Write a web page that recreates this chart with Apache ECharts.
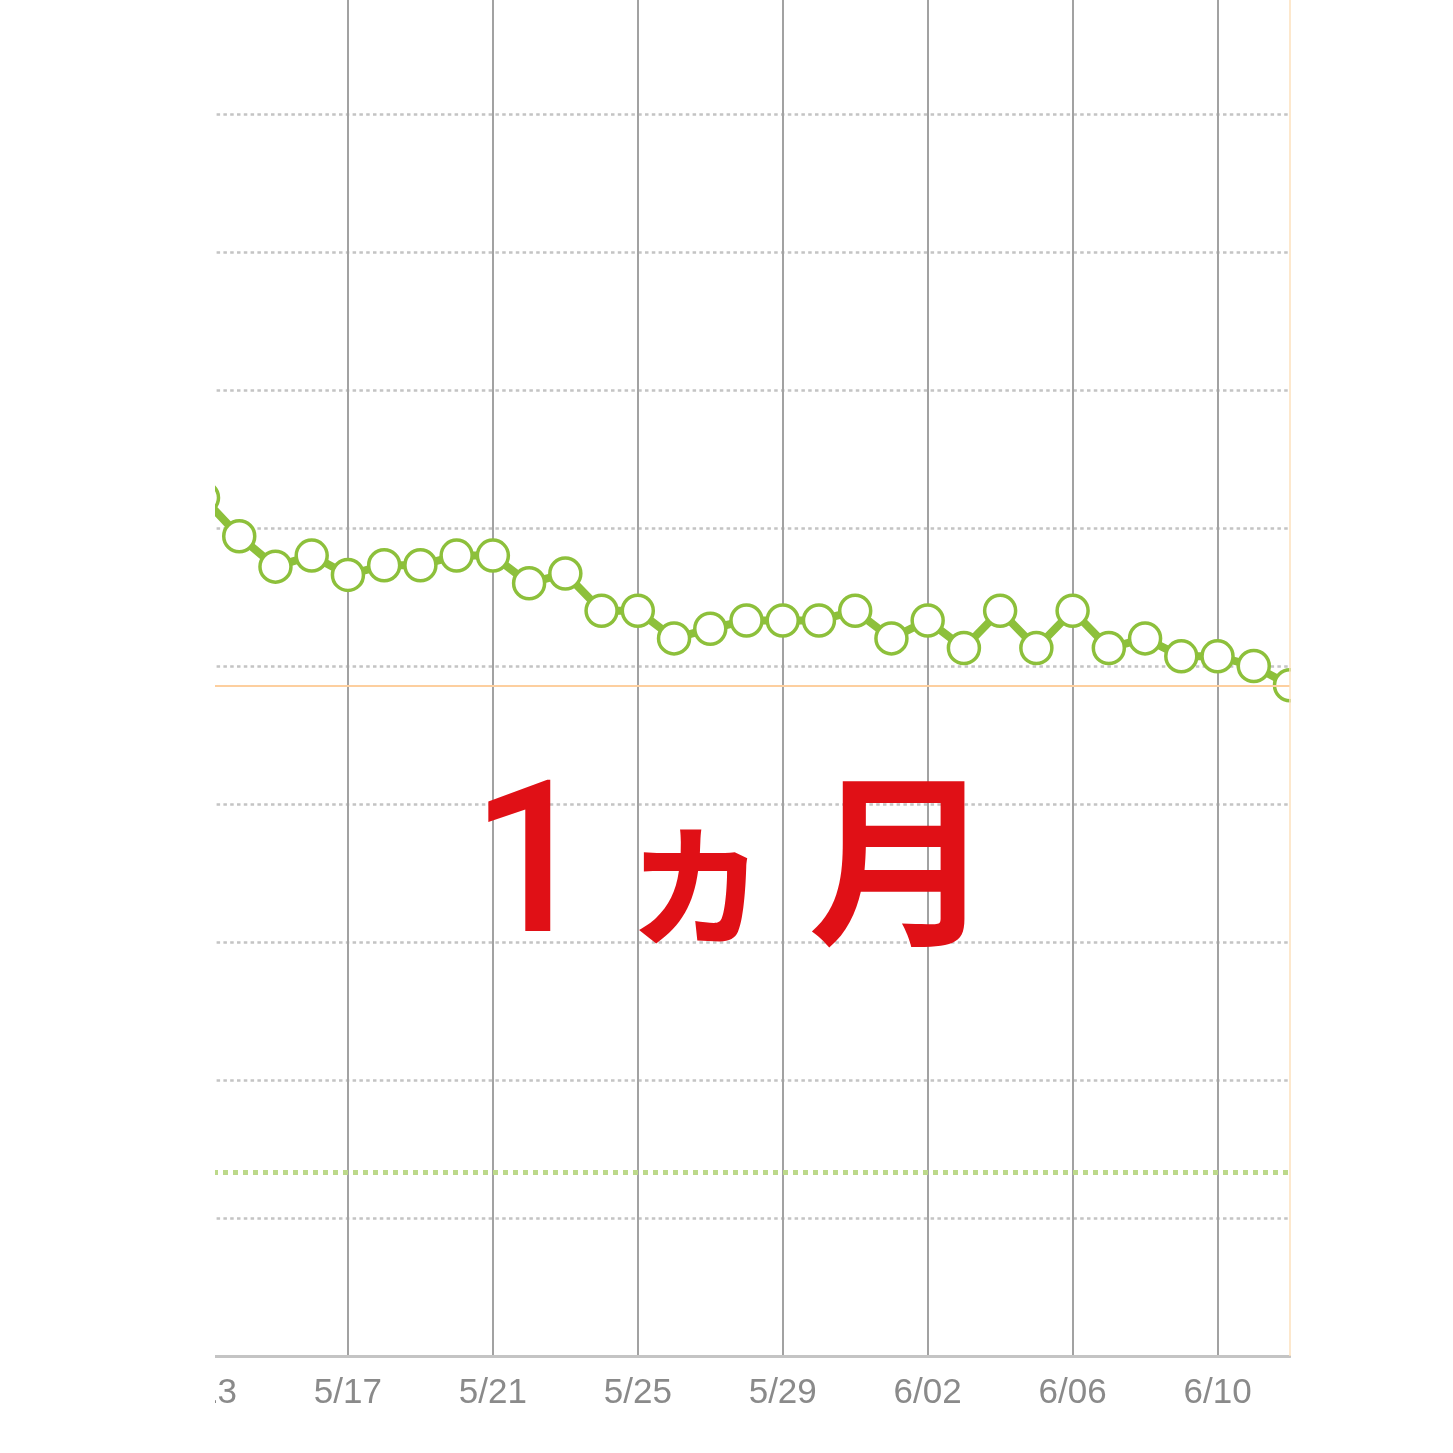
<!DOCTYPE html>
<html>
<head>
<meta charset="utf-8">
<script src="https://cdn.jsdelivr.net/npm/echarts@6/dist/echarts.min.js"></script>
<style>
html,body{margin:0;padding:0;background:#fff;}
#chart{width:1453px;height:1453px;}
</style>
</head>
<body>
<div id="chart"></div>
<script>
// Dates (one point per day)
const dates = ['5/13','5/14','5/15','5/16','5/17','5/18','5/19','5/20','5/21','5/22','5/23','5/24','5/25','5/26','5/27','5/28','5/29','5/30','5/31','6/01','6/02','6/03','6/04','6/05','6/06','6/07','6/08','6/09','6/10','6/11','6/12'];
// Daily values (grid units)
const values = [6.22,5.94,5.72,5.80,5.66,5.73,5.73,5.80,5.80,5.60,5.67,5.40,5.40,5.20,5.27,5.33,5.33,5.33,5.40,5.20,5.33,5.13,5.40,5.13,5.40,5.13,5.20,5.07,5.07,5.00,4.86];
// Reference lines
const targetValue = 4.862;
const lowerValue = 1.333;
const lastDate = '6/12';
const yMax = 9.826;
const overlayChars = ['1', 'ヵ', '月'];

const chart = echarts.init(document.getElementById('chart'));
chart.setOption({
  animation: false,
  backgroundColor: '#fff',
  grid: { left: 203, right: 163, top: 0, bottom: 97 },
  xAxis: {
    type: 'category',
    data: dates,
    boundaryGap: false,
    axisLine: { show: true, lineStyle: { color: '#c4c4c4', width: 3 } },
    axisTick: { show: false },
    axisLabel: {
      interval: 3, color: '#8a8a8a', fontSize: 35, margin: 20,
      fontFamily: 'Liberation Sans, Arial, sans-serif'
    },
    splitLine: { show: true, interval: 3, lineStyle: { color: '#a2a2a2', width: 2 } }
  },
  yAxis: {
    type: 'value', min: 0, max: yMax, interval: 1,
    axisLine: { show: false }, axisTick: { show: false }, axisLabel: { show: false },
    splitLine: { show: true, showMaxLine: false, lineStyle: { color: '#c4c4c4', width: 2.5, type: [3.5, 3.3] } }
  },
  series: [
    {
      type: 'line', data: [], z: 1, silent: true,
      markLine: {
        silent: true, symbol: 'none', label: { show: false },
        data: [
          { yAxis: targetValue, lineStyle: { color: '#fdcf9f', width: 2, type: 'solid' } },
          { yAxis: lowerValue, lineStyle: { color: '#bcd98a', width: 5, type: [5, 5] } },
          { xAxis: lastDate, lineStyle: { color: '#fde0bd', width: 1.5, type: 'solid' } }
        ]
      }
    },
    {
      type: 'line', data: values, z: 3,
      symbol: 'circle', symbolSize: 31, showAllSymbol: true, clip: false,
      lineStyle: { color: '#8dc03b', width: 8 },
      itemStyle: { color: '#ffffff', borderColor: '#8dc03b', borderWidth: 3.5 }
    }
  ],
  graphic: [
    { type: 'rect', z: 100, shape: { x: 0, y: 0, width: 215, height: 1453 }, style: { fill: '#fff' } },
    { type: 'rect', z: 100, shape: { x: 1291, y: 0, width: 162, height: 1453 }, style: { fill: '#fff' } },
    { type: 'text', z: 110, x: 531, y: 878, style: { text: overlayChars[0], fill: '#e01016', font: '500 212px Roboto, "Noto Sans", sans-serif', textAlign: 'center', textVerticalAlign: 'middle' } },
    { type: 'text', z: 110, x: 697, y: 870, style: { text: overlayChars[1], fill: '#e01016', font: 'bold 160px "Noto Sans CJK JP"', textAlign: 'center', textVerticalAlign: 'middle' } },
    { type: 'text', z: 110, x: 901, y: 860, style: { text: overlayChars[2], fill: '#e01016', font: 'bold 186px "Noto Sans CJK JP"', textAlign: 'center', textVerticalAlign: 'middle' } }
  ]
});
</script>
</body>
</html>
